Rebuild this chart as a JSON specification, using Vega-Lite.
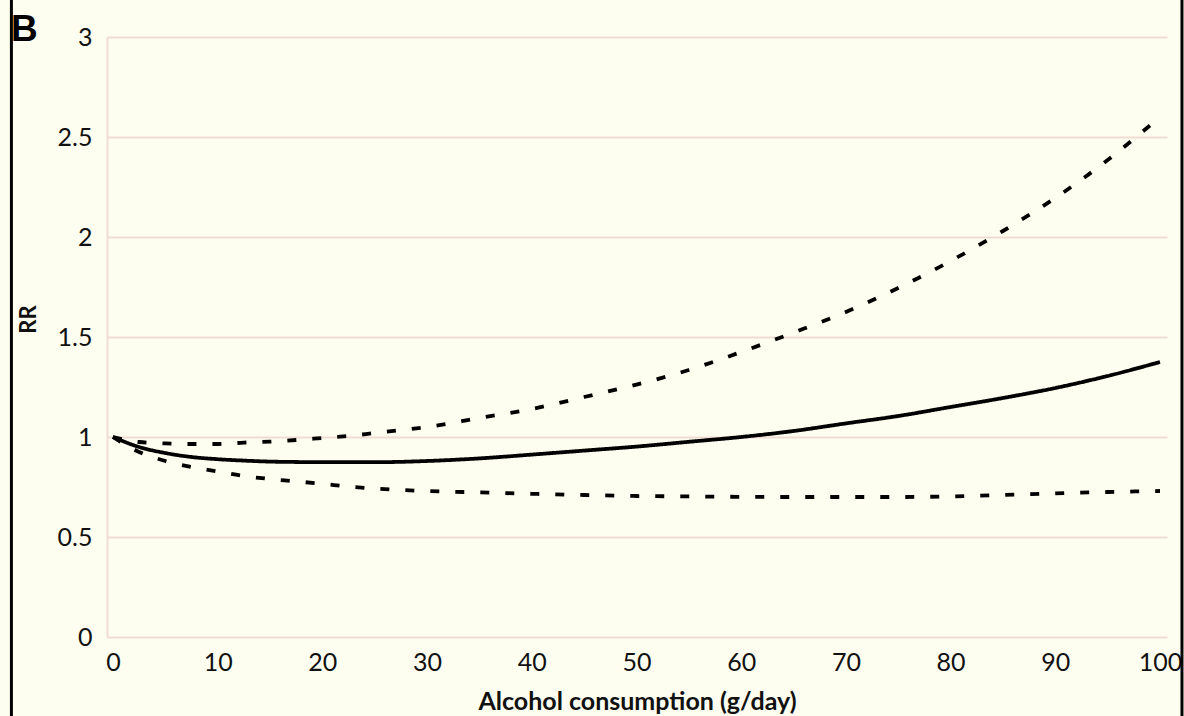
{
  "$schema": "https://vega.github.io/schema/vega-lite/v6.json",
  "width": 1060,
  "height": 600,
  "autosize": {"type": "none"},
  "padding": {"left": 107, "top": 37, "right": 17, "bottom": 79},
  "background": "#fefef0",
  "title": {
    "text": "B",
    "anchor": "start",
    "frame": "group",
    "font": "Liberation Sans",
    "fontSize": 37,
    "fontWeight": "bold",
    "color": "#000000",
    "baseline": "alphabetic",
    "dx": -96,
    "offset": -79
  },
  "config": {
    "view": {"stroke": null},
    "axis": {
      "labelFont": "Lato",
      "labelFontSize": 25,
      "labelColor": "#111111",
      "titleFont": "Lato",
      "titleFontWeight": "bold",
      "titleColor": "#111111",
      "ticks": false,
      "gridColor": "#efdcd3",
      "gridWidth": 2,
      "domainColor": "#efdcd3",
      "domainWidth": 2
    }
  },
  "datasets": {
    "curves": [
      {"x": 0, "rr": 1.0, "series": "RR"},
      {"x": 2.5, "rr": 0.95, "series": "RR"},
      {"x": 5, "rr": 0.92, "series": "RR"},
      {"x": 7.5, "rr": 0.9, "series": "RR"},
      {"x": 10, "rr": 0.889, "series": "RR"},
      {"x": 12.5, "rr": 0.882, "series": "RR"},
      {"x": 15, "rr": 0.877, "series": "RR"},
      {"x": 17.5, "rr": 0.875, "series": "RR"},
      {"x": 20, "rr": 0.874, "series": "RR"},
      {"x": 25, "rr": 0.874, "series": "RR"},
      {"x": 30, "rr": 0.88, "series": "RR"},
      {"x": 35, "rr": 0.893, "series": "RR"},
      {"x": 40, "rr": 0.912, "series": "RR"},
      {"x": 45, "rr": 0.932, "series": "RR"},
      {"x": 50, "rr": 0.952, "series": "RR"},
      {"x": 55, "rr": 0.976, "series": "RR"},
      {"x": 60, "rr": 1.0, "series": "RR"},
      {"x": 65, "rr": 1.03, "series": "RR"},
      {"x": 70, "rr": 1.068, "series": "RR"},
      {"x": 75, "rr": 1.105, "series": "RR"},
      {"x": 80, "rr": 1.15, "series": "RR"},
      {"x": 85, "rr": 1.195, "series": "RR"},
      {"x": 90, "rr": 1.245, "series": "RR"},
      {"x": 95, "rr": 1.305, "series": "RR"},
      {"x": 100, "rr": 1.375, "series": "RR"},
      {"x": 0, "rr": 1.0, "series": "Upper"},
      {"x": 2.5, "rr": 0.975, "series": "Upper"},
      {"x": 5, "rr": 0.968, "series": "Upper"},
      {"x": 7.5, "rr": 0.965, "series": "Upper"},
      {"x": 10, "rr": 0.965, "series": "Upper"},
      {"x": 12.5, "rr": 0.972, "series": "Upper"},
      {"x": 15, "rr": 0.977, "series": "Upper"},
      {"x": 17.5, "rr": 0.985, "series": "Upper"},
      {"x": 20, "rr": 0.995, "series": "Upper"},
      {"x": 22.5, "rr": 1.005, "series": "Upper"},
      {"x": 25, "rr": 1.02, "series": "Upper"},
      {"x": 27.5, "rr": 1.035, "series": "Upper"},
      {"x": 30, "rr": 1.05, "series": "Upper"},
      {"x": 35, "rr": 1.095, "series": "Upper"},
      {"x": 40, "rr": 1.14, "series": "Upper"},
      {"x": 45, "rr": 1.2, "series": "Upper"},
      {"x": 50, "rr": 1.262, "series": "Upper"},
      {"x": 55, "rr": 1.335, "series": "Upper"},
      {"x": 60, "rr": 1.425, "series": "Upper"},
      {"x": 65, "rr": 1.522, "series": "Upper"},
      {"x": 70, "rr": 1.625, "series": "Upper"},
      {"x": 75, "rr": 1.745, "series": "Upper"},
      {"x": 80, "rr": 1.88, "series": "Upper"},
      {"x": 85, "rr": 2.03, "series": "Upper"},
      {"x": 90, "rr": 2.195, "series": "Upper"},
      {"x": 95, "rr": 2.385, "series": "Upper"},
      {"x": 100, "rr": 2.6, "series": "Upper"},
      {"x": 0, "rr": 1.0, "series": "Lower"},
      {"x": 2.5, "rr": 0.925, "series": "Lower"},
      {"x": 5, "rr": 0.88, "series": "Lower"},
      {"x": 7.5, "rr": 0.85, "series": "Lower"},
      {"x": 10, "rr": 0.828, "series": "Lower"},
      {"x": 12.5, "rr": 0.805, "series": "Lower"},
      {"x": 15, "rr": 0.79, "series": "Lower"},
      {"x": 17.5, "rr": 0.778, "series": "Lower"},
      {"x": 20, "rr": 0.766, "series": "Lower"},
      {"x": 22.5, "rr": 0.752, "series": "Lower"},
      {"x": 25, "rr": 0.742, "series": "Lower"},
      {"x": 30, "rr": 0.73, "series": "Lower"},
      {"x": 35, "rr": 0.723, "series": "Lower"},
      {"x": 40, "rr": 0.716, "series": "Lower"},
      {"x": 45, "rr": 0.71, "series": "Lower"},
      {"x": 50, "rr": 0.705, "series": "Lower"},
      {"x": 55, "rr": 0.703, "series": "Lower"},
      {"x": 60, "rr": 0.701, "series": "Lower"},
      {"x": 65, "rr": 0.7, "series": "Lower"},
      {"x": 70, "rr": 0.7, "series": "Lower"},
      {"x": 75, "rr": 0.7, "series": "Lower"},
      {"x": 80, "rr": 0.703, "series": "Lower"},
      {"x": 85, "rr": 0.71, "series": "Lower"},
      {"x": 90, "rr": 0.718, "series": "Lower"},
      {"x": 95, "rr": 0.725, "series": "Lower"},
      {"x": 100, "rr": 0.73, "series": "Lower"}
    ],
    "frame": [
      {"edge": "left", "x": -9.7, "ylo": -0.45, "yhi": 3.185},
      {"edge": "right", "x": 102.1, "ylo": -0.45, "yhi": 3.185}
    ]
  },
  "layer": [
    {
      "data": {"name": "curves"},
      "mark": {"type": "line", "strokeWidth": 3.8, "strokeCap": "butt", "interpolate": "monotone"},
      "encoding": {
        "x": {
          "field": "x",
          "type": "quantitative",
          "scale": {"domain": [-0.57, 100.67], "nice": false, "zero": false},
          "axis": {
            "values": [0, 10, 20, 30, 40, 50, 60, 70, 80, 90, 100],
            "grid": false,
            "domain": false,
            "labelPadding": 13,
            "labelFlush": false,
            "title": "Alcohol consumption (g/day)",
            "titleFontSize": 25,
            "titlePadding": 14
          }
        },
        "y": {
          "field": "rr",
          "type": "quantitative",
          "scale": {"domain": [0, 3], "nice": false},
          "axis": {
            "values": [0, 0.5, 1, 1.5, 2, 2.5, 3],
            "format": "~g",
            "labelPadding": 15,
            "labelFlush": false,
            "title": "RR",
            "titleFontSize": 22,
            "titleX": -79,
            "titleY": 282,
            "titleBaseline": "middle"
          }
        },
        "detail": {"field": "series"},
        "color": {"value": "#000000"},
        "strokeDash": {
          "field": "series",
          "type": "nominal",
          "scale": {"domain": ["RR", "Upper", "Lower"], "range": [[1, 0], [9, 16], [9, 16]]},
          "legend": null
        }
      }
    },
    {
      "data": {"name": "frame"},
      "mark": {"type": "rule", "strokeWidth": 3, "color": "#000000", "clip": false},
      "encoding": {
        "x": {"field": "x", "type": "quantitative"},
        "y": {"field": "ylo", "type": "quantitative"},
        "y2": {"field": "yhi"}
      }
    }
  ]
}
